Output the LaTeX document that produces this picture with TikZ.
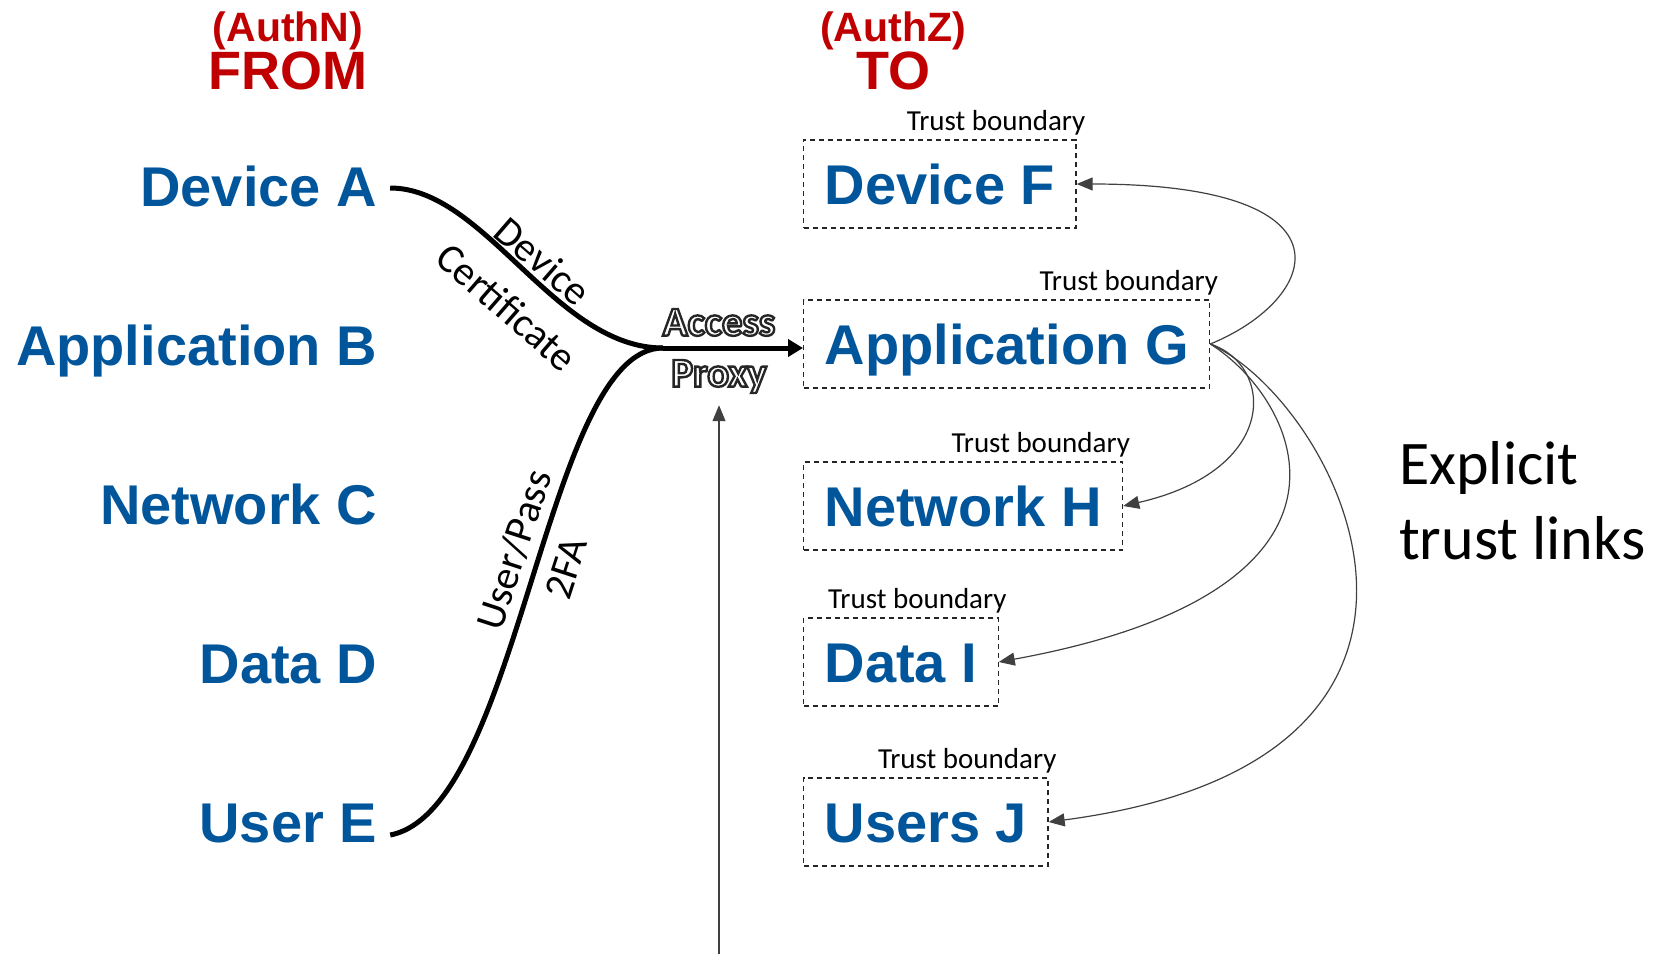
\documentclass[tikz,border=0pt]{standalone}
\usepackage{fontspec}
\setmainfont{Carlito}
\newfontfamily\arialfont{Liberation Sans}
\usetikzlibrary{arrows.meta}
\definecolor{authblue}{RGB}{0,85,155}
\definecolor{authred}{RGB}{192,0,0}
\definecolor{linkgray}{RGB}{64,64,64}
\newcommand{\outlined}[1]{\special{pdf:literal direct 2 Tr 2.4 w 0.15 0.15 0.15 RG}#1\special{pdf:literal direct 0 Tr}}
\tikzstyle{smallheading} = [inner sep=0pt, text height=29pt, text depth=0pt, text=authred, font=\arialfont\bfseries\fontsize{41}{44}\selectfont]
\tikzstyle{largeheading} = [inner sep=0pt, text height=39pt, text depth=0pt, text=authred, font=\arialfont\bfseries\fontsize{54}{58}\selectfont]
\tikzstyle{source} = [inner sep=0pt, text width=370pt, align=flush right, text height=40pt, text depth=0pt, text=authblue, font=\arialfont\bfseries\fontsize{56}{60}\selectfont]
\tikzstyle{target} = [rectangle, anchor=west, draw=black!85, line width=1.3pt, dash pattern=on 5pt off 4pt, inner xsep=21pt, inner ysep=0pt, minimum height=88pt, text height=40pt, text depth=0pt, text=authblue, font=\arialfont\bfseries\fontsize{56}{60}\selectfont]
\tikzstyle{boundary} = [inner sep=0pt, anchor=south east, font=\fontsize{29}{32}\selectfont]
\tikzstyle{credential} = [inner sep=0pt, font=\fontsize{41}{44}\selectfont]
\tikzstyle{proxylabel} = [inner sep=0pt, align=center, text=white, font=\bfseries\fontsize{41}{51}\selectfont]
\tikzstyle{authpath} = [line width=5pt, -{Triangle[length=15pt, width=17pt]}]
\tikzstyle{trustlink} = [line width=1.2pt, draw=linkgray, -{Triangle[length=16pt, width=13pt]}]

\begin{document}
\begin{tikzpicture}[x=1pt, y=-1pt, node distance=159pt]
\useasboundingbox (0,0) rectangle (1666,954);
% headings
\node (authN) [smallheading] at (288,27) {(AuthN)};
\node (from) [largeheading] at (288,70) {FROM};
\node (authZ) [smallheading] at (893,27) {(AuthZ)};
\node (to) [largeheading] at (893,70) {TO};
% authenticated sources
\node (devA) [source] at (192,186) {Device A};
\node (appB) [source, below of=devA] {Application B};
\node (netC) [source, below of=appB] {Network C};
\node (datD) [source, below of=netC] {Data D};
\node (usrE) [source, below of=datD] {User E};
% authorized targets
\node (devF) [target] at (803,184) {Device F};
\node (appG) [target] at (803,344) {Application G};
\node (netH) [target] at (803,506) {Network H};
\node (datI) [target] at (803,662) {Data I};
\node (usrJ) [target] at (803,822) {Users J};
\node (tbF) [boundary] at ([xshift=9pt, yshift=4pt]devF.north east) {Trust boundary};
\node (tbG) [boundary] at ([xshift=8pt, yshift=4pt]appG.north east) {Trust boundary};
\node (tbH) [boundary] at ([xshift=7pt, yshift=4pt]netH.north east) {Trust boundary};
\node (tbI) [boundary] at ([xshift=8pt, yshift=4pt]datI.north east) {Trust boundary};
\node (tbJ) [boundary] at ([xshift=8pt, yshift=4pt]usrJ.north east) {Trust boundary};
% proxy
\coordinate (merge) at (663,348);
\coordinate (pbot) at (719,954);
\node (proxy) [proxylabel] at (719,351) {\outlined{Access}\\\outlined{Proxy}};
\draw [line width=5pt] ([xshift=13pt, yshift=-2pt]devA.east) .. controls (485,188) and (555,348) .. (merge);
\draw [line width=5pt] ([xshift=13pt, yshift=-13pt]usrE.east) .. controls (520,810) and (545,348) .. (merge);
\draw [authpath] (merge) -- (merge -| appG.west);
\draw [trustlink, shorten >=12pt] (pbot) -- (proxy);
\node (lblDevice) [credential, rotate=-41] at (543,261) {Device};
\node (lblCertificate) [credential, rotate=-41] at (507,307) {Certificate};
\node (lblUserPass) [credential, rotate=72] at (514,550) {User/Pass};
\node (lblTwoFA) [credential, rotate=72] at (566,568) {2FA};
% trust links
\draw [trustlink] (appG.east) .. controls +(110,-45) and +(285,0) .. (devF.east);
\draw [trustlink] (appG.east) .. controls +(64,21) and +(157,-36) .. (netH.east);
\draw [trustlink] (appG.east) .. controls +(89,56) and +(394,-72) .. (datI.east);
\draw [trustlink] (appG.east) .. controls +(130,60) and +(470,-62) .. (usrJ.east);
\node (explicit) [inner sep=0pt, anchor=west, align=left, font=\fontsize{62}{75}\selectfont] at (1399,501) {Explicit\\trust links};
\end{tikzpicture}
\end{document}
